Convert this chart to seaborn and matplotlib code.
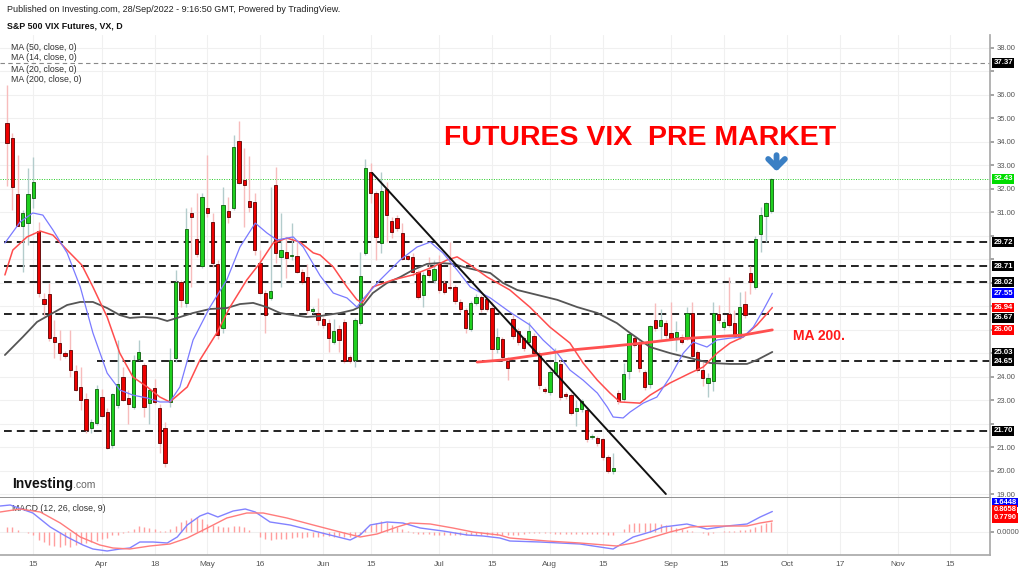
import numpy as np
import matplotlib
matplotlib.use("Agg")
import matplotlib.pyplot as plt
import seaborn as sns

# VX futures, daily bars 8 Mar - 28 Sep 2022
opens = [34.80, 34.17, 31.78, 30.42, 30.54, 31.61, 30.20, 27.30, 27.52, 25.69,
         25.43, 25.00, 25.13, 24.24, 23.56, 23.04, 21.81, 22.02, 23.13, 22.49,
         21.09, 22.79, 23.98, 23.09, 22.70, 24.75, 24.49, 22.87, 23.51, 22.66,
         21.81, 22.90, 24.79, 28.03, 27.13, 30.97, 29.86, 28.71, 31.18, 30.59,
         28.80, 26.07, 31.05, 31.18, 34.04, 32.38, 31.48, 31.44, 28.84, 27.56,
         27.35, 32.16, 29.10, 29.31, 29.13, 29.14, 28.46, 28.24, 26.80, 26.71,
         26.45, 26.28, 25.47, 26.03, 26.33, 24.83, 24.71, 26.28, 29.27, 32.72,
         31.82, 29.69, 32.00, 30.63, 30.76, 30.12, 29.14, 29.09, 28.46, 27.48,
         28.54, 28.12, 28.80, 27.99, 27.82, 27.82, 27.18, 26.84, 26.03, 27.13,
         27.39, 27.30, 26.92, 25.18, 25.60, 24.66, 26.45, 25.94, 25.64, 25.47,
         25.73, 25.00, 23.47, 23.34, 24.15, 24.54, 23.26, 23.22, 22.53, 22.62,
         22.58, 21.44, 21.38, 21.34, 20.57, 19.98, 23.30, 23.04, 24.24, 25.64,
         25.43, 24.20, 23.68, 26.41, 26.15, 26.28, 25.86, 25.69, 25.69, 25.64,
         26.71, 25.05, 24.28, 23.73, 23.81, 26.67, 26.11, 26.67, 26.28, 25.69,
         27.09, 28.41, 27.82, 30.08, 30.84, 31.06]
highs = [36.40, 34.38, 33.44, 31.10, 32.89, 33.36, 30.59, 27.56, 27.99, 26.41,
         25.98, 25.10, 25.98, 24.50, 24.41, 23.30, 22.20, 23.64, 23.47, 22.66,
         23.30, 25.56, 24.41, 23.43, 24.92, 25.56, 24.60, 23.51, 23.90, 22.83,
         22.06, 25.22, 28.54, 28.10, 31.18, 31.22, 31.82, 31.82, 33.44, 30.97,
         28.97, 32.08, 31.65, 34.29, 34.89, 33.74, 33.40, 31.82, 29.39, 27.70,
         32.08, 32.93, 30.97, 29.90, 30.54, 29.73, 28.60, 28.80, 26.95, 27.35,
         26.55, 26.45, 26.45, 26.20, 26.45, 24.92, 26.50, 29.31, 33.27, 33.10,
         31.90, 32.72, 32.30, 30.80, 30.90, 30.55, 29.20, 29.27, 28.55, 28.46,
         29.10, 28.97, 29.18, 28.10, 29.73, 27.90, 27.30, 26.92, 27.20, 27.50,
         27.48, 27.40, 27.18, 26.07, 25.70, 24.83, 26.62, 26.05, 25.75, 26.33,
         25.85, 25.10, 23.55, 24.30, 25.22, 24.71, 23.35, 23.30, 23.00, 23.05,
         22.70, 21.55, 21.45, 21.40, 20.65, 20.75, 23.45, 24.60, 25.90, 25.75,
         25.60, 24.30, 26.20, 27.14, 26.90, 26.40, 27.18, 26.35, 25.80, 26.97,
         27.18, 25.15, 24.62, 24.15, 27.18, 27.05, 26.45, 28.24, 26.84, 27.60,
         27.65, 28.70, 29.97, 31.22, 31.45, 32.45]
lows = [32.10, 31.10, 30.40, 28.46, 29.60, 31.18, 27.39, 26.60, 25.50, 24.79,
        24.71, 24.80, 23.98, 23.40, 22.58, 21.60, 21.60, 21.94, 22.28, 20.90,
        20.98, 22.66, 22.96, 22.00, 22.62, 24.70, 22.28, 22.00, 22.83, 20.75,
        20.15, 22.70, 24.62, 26.96, 26.96, 27.82, 29.10, 28.63, 30.80, 28.67,
        25.60, 25.86, 30.54, 31.10, 32.20, 30.37, 31.00, 29.20, 27.50, 25.86,
        27.26, 28.84, 27.82, 28.20, 28.97, 28.40, 27.95, 26.65, 26.70, 26.20,
        26.05, 25.05, 25.39, 25.05, 24.60, 24.58, 24.41, 26.20, 29.18, 31.40,
        28.97, 29.27, 29.73, 29.90, 30.20, 28.97, 28.95, 28.30, 27.30, 26.96,
        28.25, 28.00, 27.56, 27.50, 27.70, 27.10, 26.75, 25.86, 25.95, 27.05,
        26.75, 26.80, 24.71, 25.00, 24.70, 23.85, 25.60, 25.35, 25.10, 25.35,
        24.90, 23.47, 23.30, 23.20, 24.05, 23.00, 23.05, 22.35, 21.90, 22.50,
        21.20, 21.35, 21.05, 20.45, 19.90, 19.85, 22.85, 22.96, 23.90, 25.25,
        24.20, 23.45, 23.50, 25.95, 25.60, 25.65, 25.55, 25.10, 25.40, 25.55,
        24.80, 24.20, 23.60, 23.13, 23.40, 26.30, 26.00, 26.10, 25.65, 25.60,
        26.50, 27.50, 27.75, 29.31, 29.75, 30.95]
closes = [33.95, 32.08, 30.42, 30.97, 31.78, 32.29, 27.56, 27.09, 25.64, 25.47,
          25.00, 24.88, 24.28, 23.43, 23.00, 21.72, 22.06, 23.47, 22.32, 20.96,
          23.26, 23.68, 23.00, 22.83, 24.71, 25.05, 22.70, 23.43, 22.92, 21.17,
          20.32, 24.71, 28.03, 27.26, 30.29, 30.80, 29.22, 31.65, 30.97, 28.84,
          25.77, 31.31, 30.80, 33.78, 32.25, 32.16, 31.22, 29.39, 27.56, 26.62,
          27.65, 29.27, 29.39, 29.05, 29.18, 28.46, 28.03, 26.84, 26.86, 26.41,
          26.20, 25.64, 25.94, 25.56, 24.66, 24.66, 26.41, 28.29, 32.89, 31.82,
          29.95, 31.91, 30.88, 30.16, 30.33, 29.01, 29.01, 28.46, 27.39, 28.33,
          28.33, 28.58, 27.69, 27.60, 27.78, 27.22, 26.88, 26.07, 27.13, 27.39,
          26.88, 26.88, 25.18, 25.69, 24.83, 24.37, 25.73, 25.47, 25.22, 25.94,
          25.00, 23.64, 23.40, 24.20, 24.62, 23.13, 23.17, 22.45, 22.66, 22.96,
          21.34, 21.48, 21.17, 20.57, 19.98, 20.10, 22.96, 24.11, 25.81, 25.35,
          24.37, 23.56, 26.15, 26.07, 26.41, 25.77, 25.64, 25.90, 25.47, 26.71,
          24.88, 24.28, 23.94, 23.94, 26.71, 26.41, 26.33, 26.20, 25.73, 26.96,
          26.62, 28.03, 29.86, 30.88, 31.40, 32.43]

# moving averages (bar position, value)
ma14_x = [-0.4, 2.5, 4.9, 6.8, 8.7, 11.4, 13.9, 16.3, 19.0, 21.4, 23.9, 26.6, 29.0, 30.9, 32.8,
          35.3, 38.5, 41.7, 44.2, 47.1, 49.3, 51.2, 54.3, 56.2, 59.4, 61.9, 64.5, 66.4, 67.4, 70.8,
          74.6, 77.8, 80.3, 82.7, 85.4, 87.9, 91.7, 95.4, 99.2, 101.7, 104.4, 106.8, 109.3, 112.0, 113.9,
          115.0, 116.9, 118.2, 120.7, 123.3, 125.8, 128.3, 130.2, 132.8, 134.7, 137.2, 139.7, 141.6, 143.5, 145.2]
ma14_y = [29.69, 30.59, 30.97, 30.88, 30.25, 29.27, 27.82, 25.86, 24.15, 23.43, 23.21, 23.09, 22.92, 22.92, 23.56,
          25.56, 26.96, 28.12, 29.52, 30.54, 30.12, 29.82, 29.95, 29.52, 28.30, 27.56, 27.35, 26.96, 27.27, 28.12,
          28.97, 29.52, 29.73, 29.27, 28.54, 27.82, 27.35, 26.75, 26.20, 25.56, 25.00, 24.28, 23.85, 23.30, 22.70,
          22.28, 22.24, 22.49, 22.87, 23.13, 23.98, 25.00, 25.47, 25.26, 25.56, 25.64, 25.69, 26.11, 26.84, 27.55]
ma20_x = [-0.4, 1.1, 3.8, 6.3, 8.7, 11.4, 14.2, 16.3, 19.0, 21.4, 23.9, 26.6, 29.0, 30.9, 34.2,
          36.6, 39.8, 42.3, 45.5, 48.0, 50.5, 53.1, 55.6, 58.1, 59.4, 61.9, 64.5, 66.4, 67.4, 69.4,
          73.2, 77.0, 80.8, 83.5, 85.4, 87.9, 91.1, 95.4, 99.2, 103.0, 106.8, 109.3, 112.0, 114.4, 116.3,
          120.1, 122.0, 125.8, 129.6, 132.1, 134.7, 137.2, 139.7, 142.3, 145.2]
ma20_y = [28.33, 29.39, 29.95, 30.20, 30.03, 29.39, 28.75, 27.82, 26.54, 25.00, 23.98, 23.56, 23.13, 22.92, 23.56,
          24.71, 25.86, 26.96, 28.12, 28.84, 29.69, 29.90, 29.73, 29.27, 29.18, 28.67, 27.82, 27.27, 27.14, 27.82,
          28.12, 28.33, 28.67, 28.97, 29.10, 28.75, 28.24, 27.69, 26.96, 26.11, 25.43, 24.58, 23.85, 23.30, 22.92,
          22.87, 23.21, 23.73, 24.15, 24.41, 25.00, 25.43, 25.69, 26.20, 26.94]
ma50_x = [-0.4, 3.0, 5.7, 8.7, 11.4, 13.9, 16.3, 19.0, 21.4, 23.3, 25.8, 28.5, 30.4, 35.3, 38.5,
          41.7, 44.2, 46.7, 49.3, 51.8, 54.3, 56.9, 59.4, 63.2, 65.7, 67.6, 69.4, 72.1, 74.6, 77.0,
          79.7, 82.2, 84.6, 87.3, 89.8, 91.7, 94.1, 96.8, 100.6, 104.4, 108.2, 112.0, 115.7, 118.2, 122.0,
          125.8, 129.6, 133.4, 137.2, 140.4, 142.3, 145.2]
ma50_y = [24.92, 25.69, 26.33, 26.71, 27.05, 27.18, 27.18, 26.92, 26.62, 26.50, 26.54, 26.50, 26.37, 26.71, 26.88,
          26.92, 27.09, 27.14, 26.96, 26.71, 26.62, 26.54, 26.58, 26.71, 26.84, 27.05, 27.56, 27.99, 28.24, 28.54,
          28.80, 28.84, 28.80, 28.63, 28.50, 28.41, 27.99, 27.69, 27.48, 27.27, 26.96, 26.71, 26.28, 25.86, 25.26,
          25.00, 24.79, 24.58, 24.54, 24.54, 24.71, 25.05]
ma200_x = [89.2, 94.1, 100.6, 106.8, 113.1, 120.7, 127.1, 133.4, 139.7, 145.2]
ma200_y = [24.62, 24.71, 24.92, 25.13, 25.26, 25.43, 25.60, 25.69, 25.77, 25.99]

# MACD (12, 26, 9)
macd_x = [-1.3, 0.6, 4.9, 8.2, 11.4, 14.4, 16.3, 19.0, 21.4, 23.3, 25.2, 27.7, 30.4, 32.3, 34.2, 36.6,
          38.1, 40.0, 42.9, 45.2, 47.1, 49.9, 53.7, 57.5, 61.3, 65.1, 67.0, 68.9, 72.1, 75.1, 78.4, 82.7,
          87.3, 90.3, 93.5, 95.4, 101.1, 108.7, 115.0, 118.8, 122.0, 124.5, 129.0, 132.8, 136.6, 140.4, 142.9, 145.2]
macd_y = [2.08, 2.16, 1.52, 0.40, -0.40, -1.04, -1.36, -1.52, -1.36, -1.28, -0.80, -0.80, -0.88, -0.40, 0.56, 1.28,
          1.52, 1.20, 1.68, 1.84, 1.60, 0.80, 0.56, 0.16, -0.24, -0.64, -0.24, 0.56, 0.80, 0.72, 0.32, 0.08,
          -0.24, -0.32, -0.48, -0.72, -0.80, -0.96, -1.36, -0.40, 0.00, 0.40, 0.64, 0.24, 0.48, 0.64, 1.20, 1.64]
signal_x = [-1.3, 2.5, 6.3, 10.1, 13.9, 17.6, 20.1, 23.3, 27.1, 30.9, 34.2, 38.0, 41.7, 45.5, 48.6, 53.1,
            58.1, 63.2, 67.0, 70.2, 74.0, 76.5, 80.3, 84.6, 88.4, 93.5, 95.4, 102.5, 108.7, 115.7, 118.8, 122.0,
            125.8, 129.6, 134.0, 140.4, 142.9, 145.2]
signal_y = [1.60, 1.84, 1.60, 0.72, -0.40, -1.04, -1.28, -1.36, -1.12, -0.96, -0.48, 0.32, 1.12, 1.52, 1.52, 1.12,
            0.56, 0.00, -0.40, -0.16, 0.40, 0.72, 0.64, 0.32, 0.00, -0.25, -0.48, -0.72, -0.88, -1.12, -0.88, -0.48,
            0.00, 0.40, 0.48, 0.48, 0.72, 0.88]
hist = [0.40, 0.40, 0.13, 0.00, -0.08, -0.21, -0.67, -0.80, -1.07, -1.12,
        -1.20, -1.07, -1.20, -1.07, -0.93, -0.88, -0.80, -0.75, -0.59, -0.45,
        -0.27, -0.21, -0.08, 0.08, 0.21, 0.45, 0.40, 0.32, 0.27, 0.08,
        0.05, 0.21, 0.45, 0.80, 0.99, 1.12, 1.20, 1.01, 0.67, 0.53,
        0.45, 0.40, 0.40, 0.45, 0.45, 0.40, 0.13, 0.00, -0.40, -0.53,
        -0.67, -0.59, -0.53, -0.53, -0.48, -0.40, -0.45, -0.40, -0.40, -0.40,
        -0.35, -0.35, -0.40, -0.32, -0.40, -0.40, -0.32, -0.13, 0.21, 0.59,
        0.75, 0.85, 0.80, 0.59, 0.40, 0.21, 0.08, -0.05, -0.13, -0.19,
        -0.19, -0.21, -0.21, -0.27, -0.27, -0.27, -0.27, -0.21, -0.27, -0.27,
        -0.21, -0.21, -0.27, -0.21, -0.27, -0.21, -0.21, -0.21, -0.13, -0.05,
        -0.05, -0.08, -0.08, -0.08, -0.13, -0.13, -0.13, -0.13, -0.13, -0.13,
        -0.13, -0.13, -0.13, -0.13, -0.21, -0.21, 0.00, 0.27, 0.67, 0.75,
        0.75, 0.75, 0.75, 0.75, 0.67, 0.59, 0.45, 0.32, 0.21, 0.13,
        0.08, 0.00, -0.08, -0.21, -0.08, 0.00, 0.05, 0.08, 0.08, 0.13,
        0.13, 0.27, 0.40, 0.53, 0.72, 0.78]

# horizontal levels drawn by the author
levels = [29.72, 28.71, 28.02, 26.67, 24.65, 21.70]
level_start = [-0.5, -0.5, -0.5, -0.5, 17.0, -0.5]
resist_level = 37.37
last_price = 32.43
trend_x = [69.3, 125.0]
trend_y = [32.67, 19.0]

tick_pos = [5, 18, 28, 38, 48, 60, 69, 82, 92, 103, 113, 126, 136, 148, 158, 169, 179]
tick_labels = ['15', 'Apr', '18', 'May', '16', 'Jun', '15', 'Jul', '15', 'Aug', '15', 'Sep', '15',
               'Oct', '17', 'Nov', '15']

# right-hand price tags: value, colour, vertical nudge in px
price_tags = [(37.37, '#000000', 0), (32.43, '#00dd00', 0), (29.72, '#000000', 0), (28.71, '#000000', 0),
              (28.02, '#000000', 0), (27.55, '#0000ff', 0), (26.94, '#ff0000', 0), (26.67, '#000000', -4),
              (26.00, '#ff0000', 0), (25.03, '#000000', 0), (24.65, '#000000', 0), (21.70, '#000000', 0)]
macd_tags = [(1.6448, '#0000ff', 9.2), (0.8658, '#ff0000', 11.2), (0.7790, '#ff0000', 4.3)]

sns.set_theme(style="white")
plt.rcParams['font.family'] = ['Liberation Sans', 'DejaVu Sans']

W, H = 1024, 570
fig = plt.figure(figsize=(W / 100, H / 100), dpi=100)
ax = fig.add_axes([0, 72 / H, 990 / W, 463 / H])
axm = fig.add_axes([0, 15 / H, 990 / W, 57 / H], sharex=ax)

# ---- price panel ----
idx = np.arange(len(closes))
o = np.array(opens)
c = np.array(closes)
up = c >= o
ax.vlines(idx, lows, highs, colors=np.where(up, '#b3cccc', '#f7bcbc'), lw=1, zorder=3)
ax.bar(idx, np.maximum(np.abs(c - o), 0.05), bottom=np.minimum(o, c), width=0.62,
       color=np.where(up, '#1fd01f', '#ee0000'), edgecolor=np.where(up, '#0b5e0b', '#5a0000'),
       linewidth=0.6, zorder=4)

sns.lineplot(x=ma50_x, y=ma50_y, ax=ax, color='#555555', lw=1.3, zorder=5)
sns.lineplot(x=ma20_x, y=ma20_y, ax=ax, color='#ff4d4d', lw=1.1, zorder=5)
sns.lineplot(x=ma14_x, y=ma14_y, ax=ax, color='#7a7aff', lw=0.9, zorder=5)
sns.lineplot(x=ma200_x, y=ma200_y, ax=ax, color='#ff5050', lw=2.0, zorder=5)

ax.hlines(levels, level_start, 186.5, colors='#222222', lw=1.4, linestyles=(0, (4, 2.6)), zorder=2)
ax.axhline(resist_level, color='#888888', lw=0.8, ls=(0, (4, 3)), zorder=2)
ax.axhline(last_price, color='#22cc22', lw=0.7, ls=(0, (1, 1.5)), zorder=2)
ax.plot(trend_x, trend_y, color='#111111', lw=1.4, zorder=6)

ax.text(120.1, 34.17, 'FUTURES VIX  PRE MARKET', ha='center', va='center', color='#ff0000',
        fontsize=20.5, fontweight='bold', zorder=7)
ax.text(149.1, 25.73, 'MA 200.', ha='left', va='center', color='#ff1a1a', fontsize=10,
        fontweight='bold', zorder=7)
ax.annotate('', xy=(146, 32.62), xytext=(146, 33.55),
            arrowprops=dict(arrowstyle='->,head_length=0.5,head_width=0.5', color='#3a7fc4', lw=4.2,
                            capstyle='round', joinstyle='round'))

ax.set_xlim(-1.33, 186.5)
ax.set_ylim(18.83, 38.55)
ax.set_xticks(tick_pos)
yt = np.arange(19, 39)
ax.set_yticks(yt)
ax.yaxis.tick_right()
# tick labels hidden behind a price tag are left blank
tag_vals = [t[0] + t[2] / -23.47 for t in price_tags]
ax.set_yticklabels(['' if min(abs(v - tv) for tv in tag_vals) < 0.4 else f'{v:.2f}' for v in yt])
ax.tick_params(axis='y', labelsize=5.5, labelcolor='#555555', length=3, color='#999999', pad=2)
ax.tick_params(axis='x', labelbottom=False, bottom=False)
ax.grid(True, color='#f0f0f0', lw=0.8)
for s in ['left', 'top']:
    ax.spines[s].set_visible(False)
ax.spines['right'].set_color('#aaaaaa')
ax.spines['bottom'].set_color('#888888')
ax.spines['bottom'].set_linewidth(1.3)

for val, col, dy in price_tags:
    ax.annotate(f'{val:.2f}', xy=(1, val), xycoords=('axes fraction', 'data'),
                xytext=(2.5, dy * 0.72), textcoords='offset points', ha='left', va='center',
                fontsize=5.6, fontweight='bold', color='white', zorder=10, annotation_clip=False,
                bbox=dict(boxstyle='square,pad=0.18', fc=col, ec='none'))

# ---- MACD panel ----
axm.vlines(idx, 0, hist, colors='#ff9e9e', lw=1, zorder=3)
sns.lineplot(x=macd_x, y=macd_y, ax=axm, color='#8282ff', lw=1.0, zorder=4)
sns.lineplot(x=signal_x, y=signal_y, ax=axm, color='#ff7c7c', lw=1.0, zorder=4)
axm.set_ylim(-1.84, 2.72)
axm.set_yticks([0])
axm.yaxis.tick_right()
axm.set_yticklabels(['0.0000'])
axm.tick_params(axis='y', labelsize=5.5, labelcolor='#555555', length=3, color='#999999', pad=2)
axm.set_xticks(tick_pos)
axm.set_xticklabels(tick_labels)
axm.tick_params(axis='x', labelsize=6, labelcolor='#555555', length=3, color='#999999', pad=1.5)
axm.grid(True, color='#f0f0f0', lw=0.8)
for s in ['left', 'top']:
    axm.spines[s].set_visible(False)
axm.spines['right'].set_color('#aaaaaa')
axm.spines['bottom'].set_color('#aaaaaa')
for val, col, dy in macd_tags:
    axm.annotate(f'{val:.4f}', xy=(1, val), xycoords=('axes fraction', 'data'),
                 xytext=(2.5, dy * 0.72), textcoords='offset points', ha='left', va='center',
                 fontsize=5.4, fontweight='bold', color='white', zorder=10, annotation_clip=False,
                 bbox=dict(boxstyle='square,pad=0.15', fc=col, ec='none'))
axm.text(12 / 990, 0.81, 'MACD (12, 26, close, 9)', transform=axm.transAxes, fontsize=6.3,
         color='#333333', va='center')

# ---- header and legend text ----
fig.text(7 / W, 1 - 10 / H, 'Published on Investing.com, 28/Sep/2022 - 9:16:50 GMT, Powered by TradingView.',
         fontsize=6.45, color='#222222', va='center')
fig.text(7 / W, 1 - 26 / H, 'S&P 500 VIX Futures, VX, D', fontsize=6.4, fontweight='bold',
         color='#111111', va='center')
for k, lab in enumerate(['MA (50, close, 0)', 'MA (14, close, 0)', 'MA (20, close, 0)', 'MA (200, close, 0)']):
    fig.text(11 / W, 1 - (47 + 11 * k) / H, lab, fontsize=6.3, color='#333333', va='center')

logo = fig.text(12 / W, 1 - 484 / H, 'Investing', fontsize=10, fontweight='bold', color='#111111',
                va='center')
ax.annotate('.com', xy=(1, 0.1), xycoords=logo, fontsize=7.5, color='#666666', va='bottom',
            annotation_clip=False)

fig.savefig('out.png', dpi=100)
